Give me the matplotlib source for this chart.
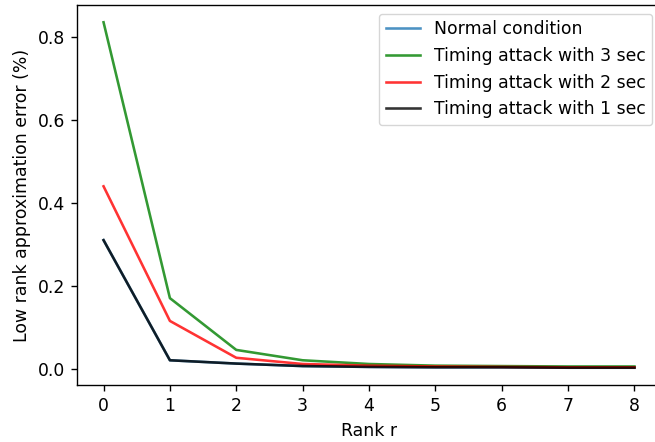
import matplotlib
matplotlib.use("Agg")
import matplotlib.pyplot as plt

ranks = [0, 1, 2, 3, 4, 5, 6, 7, 8]
normal = [0.31, 0.020, 0.012, 0.006, 0.004, 0.003, 0.003, 0.002, 0.002]
attack3 = [0.836, 0.170, 0.045, 0.020, 0.011, 0.007, 0.006, 0.005, 0.005]
attack2 = [0.44, 0.115, 0.026, 0.011, 0.007, 0.005, 0.004, 0.003, 0.003]
attack1 = [0.31, 0.020, 0.012, 0.006, 0.004, 0.003, 0.003, 0.002, 0.002]

s = 1.24
plt.rcParams.update({
    'font.size': 10 * s,
    'axes.linewidth': 0.8 * s,
    'xtick.major.size': 3.5 * s,
    'ytick.major.size': 3.5 * s,
    'xtick.major.width': 0.8 * s,
    'ytick.major.width': 0.8 * s,
    'xtick.major.pad': 3.5 * s,
    'ytick.major.pad': 3.5 * s,
    'axes.labelpad': 4 * s,
    'legend.fontsize': 10 * s,
})

W, H = 655, 442
fig = plt.figure(figsize=(W / 100, H / 100), dpi=100)
left, right, bottom, top = 77, 661, 385, 5
ax = fig.add_axes([left / W, 1 - bottom / H, (right - left) / W, (bottom - top) / H])
lw = 1.5 * s
ax.plot(ranks, normal, color='tab:blue', alpha=0.8, lw=lw, label='Normal condition')
ax.plot(ranks, attack3, color='green', alpha=0.8, lw=lw, label='Timing attack with 3 sec')
ax.plot(ranks, attack2, color='red', alpha=0.8, lw=lw, label='Timing attack with 2 sec')
ax.plot(ranks, attack1, color='black', alpha=0.8, lw=lw, label='Timing attack with 1 sec')
ax.set_xlabel('Rank r')
ax.set_ylabel('Low rank approximation error (%)')
ax.set_xticks(ranks)
ax.legend(loc='upper right')
fig.savefig('out.png', dpi=100)
